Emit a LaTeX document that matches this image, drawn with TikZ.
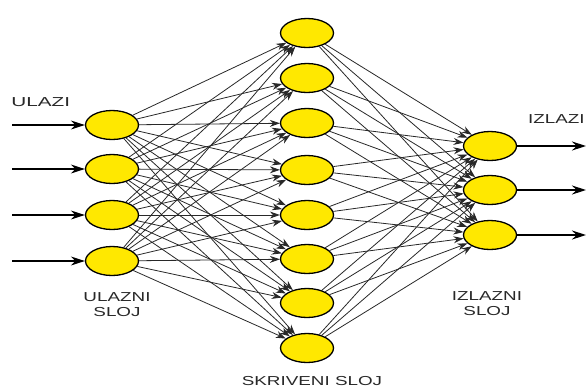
\documentclass[tikz,border=0pt]{standalone}
\usepackage{fontspec}
\setmainfont{Liberation Sans}
\usetikzlibrary{arrows.meta,shapes.geometric}
\definecolor{neuronfill}{RGB}{255,232,0}
\definecolor{labelgray}{RGB}{40,40,40}
\definecolor{wiregray}{RGB}{40,40,40}
\tikzset{
  neuron/.style={ellipse, draw=black, line width=1.3pt, fill=neuronfill,
    minimum width=53pt, minimum height=29pt, inner sep=0pt},
  wire/.style={draw=wiregray, line width=0.8pt,
    -{Stealth[length=10pt,width=7pt]}},
  ioarrow/.style={draw=black, line width=1.3pt,
    -{Stealth[length=14pt,width=9pt]}},
  caption/.style={text=labelgray, font=\fontsize{13}{15}\selectfont,
    align=center, inner sep=0pt, xscale=1.45, transform shape},
  widecaption/.style={caption, xscale=1.1}
}
\begin{document}
\begin{tikzpicture}[x=1pt,y=-1pt]
\useasboundingbox (0,0) rectangle (587,389);

% input layer
\foreach \i/\yy in {1/125,2/169,3/215,4/261}
  \node[neuron] (in\i) at (112,\yy) {};
% hidden layer
\foreach \j/\yy in {1/33,2/78,3/123,4/170,5/215,6/259,7/303,8/348}
  \node[neuron] (hid\j) at (307,\yy) {};
% output layer
\foreach \k/\yy in {1/146,2/190,3/235}
  \node[neuron] (out\k) at (490,\yy) {};

% free ends of the input and output arrows
\foreach \i/\yy in {1/125,2/169,3/215,4/261}
  \coordinate (src\i) at (12,\yy);
\foreach \k/\yy in {1/146,2/190,3/235}
  \coordinate (dst\k) at (586,\yy);

% fully connected weights
\foreach \i in {1,...,4}
  \foreach \j in {1,...,8}
    \draw[wire] (in\i) -- (hid\j);
\foreach \j in {1,...,8}
  \foreach \k in {1,...,3}
    \draw[wire] (hid\j) -- (out\k);

% inputs and outputs
\foreach \i in {1,...,4}
  \draw[ioarrow] (src\i) -- (in\i);
\foreach \k in {1,...,3}
  \draw[ioarrow] (out\k) -- (dst\k);

% labels
\node[widecaption, anchor=west] (ulazi) at (11,102) {ULAZI};
\node[caption, anchor=east] (izlazi) at (585,119) {IZLAZI};
\node[caption] (ulazni) at (117,305) {ULAZNI\\SLOJ};
\node[caption] (izlazni) at (487,304) {IZLAZNI\\SLOJ};
\node[caption] (skriveni) at (312,381) {SKRIVENI SLOJ};
\end{tikzpicture}
\end{document}
